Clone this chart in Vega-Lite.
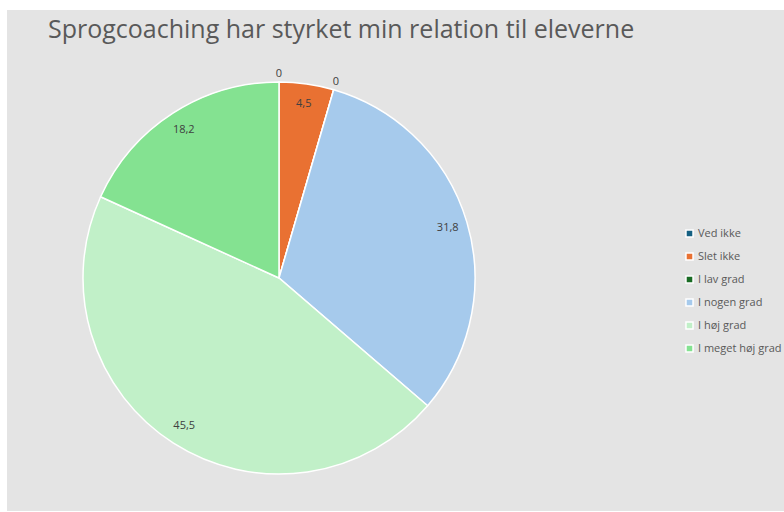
{
  "$schema": "https://vega.github.io/schema/vega-lite/v6.json",
  "width": 777,
  "height": 501,
  "autosize": {"type": "none"},
  "padding": {"left": 7, "top": 10, "right": 0, "bottom": 1},
  "background": "#ffffff",
  "view": {"fill": "#e4e4e4", "stroke": null},
  "title": {
    "text": "Sprogcoaching har styrket min relation til eleverne",
    "anchor": "start",
    "orient": "top",
    "offset": -33,
    "dx": 41,
    "font": "Open Sans",
    "fontSize": 25,
    "fontWeight": "normal",
    "color": "#595959"
  },
  "data": {
    "values": [
      {"svar": "Ved ikke", "pct": 0},
      {"svar": "Slet ikke", "pct": 4.5},
      {"svar": "I lav grad", "pct": 0},
      {"svar": "I nogen grad", "pct": 31.8},
      {"svar": "I høj grad", "pct": 45.5},
      {"svar": "I meget høj grad", "pct": 18.2}
    ]
  },
  "transform": [
    {"window": [{"op": "row_number", "as": "idx"}]}
  ],
  "layer": [
    {
      "mark": {"type": "arc", "radius": 196, "stroke": "#ffffff", "strokeWidth": 1.5, "x": 272, "y": 268},
      "encoding": {
        "theta": {"field": "pct", "type": "quantitative", "stack": true},
        "order": {"field": "idx", "type": "quantitative"},
        "color": {
          "field": "svar",
          "type": "nominal",
          "sort": ["Ved ikke", "Slet ikke", "I lav grad", "I nogen grad", "I høj grad", "I meget høj grad"],
          "scale": {
            "domain": ["Ved ikke", "Slet ikke", "I lav grad", "I nogen grad", "I høj grad", "I meget høj grad"],
            "range": ["#156082", "#e97132", "#196b24", "#a6caec", "#c1f0c8", "#84e291"]
          },
          "legend": {
            "title": null,
            "orient": "none",
            "legendX": 677,
            "legendY": 218,
            "symbolType": "square",
            "symbolSize": 50,
            "symbolStrokeColor": "#ffffff",
            "symbolStrokeWidth": 1.5,
            "rowPadding": 8,
            "labelFont": "Open Sans",
            "labelFontSize": 11,
            "labelColor": "#595959",
            "labelOffset": 3
          }
        }
      }
    },
    {
      "mark": {
        "type": "text",
        "x": 272,
        "y": 268,
        "radius": {"expr": "datum.pct > 0 ? 176 : 204"},
        "font": "Open Sans",
        "fontSize": 11,
        "fill": "#404040"
      },
      "encoding": {
        "theta": {"field": "pct", "type": "quantitative", "stack": true},
        "order": {"field": "idx", "type": "quantitative"},
        "text": {"field": "pct", "type": "quantitative", "format": ".1~f"}
      }
    }
  ],
  "config": {
    "locale": {"number": {"decimal": ",", "thousands": ".", "grouping": [3], "currency": ["", " kr."]}}
  }
}
